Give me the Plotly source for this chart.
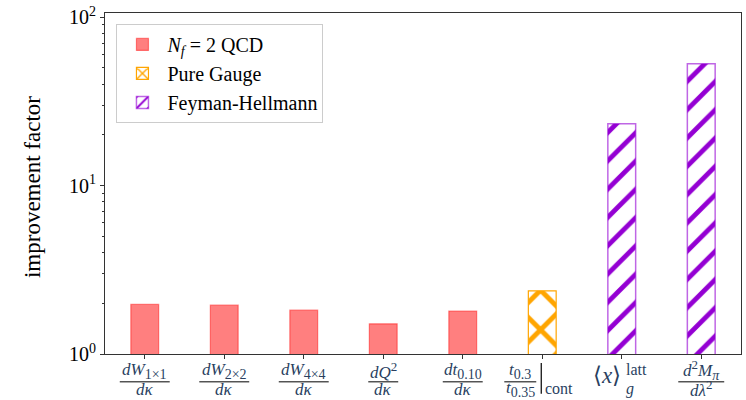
import plotly.graph_objects as go

# ---- data ----
qcd_idx = [0, 1, 2, 3, 4]
qcd_vals = [1.97, 1.95, 1.82, 1.51, 1.80]
gauge_idx = [5]
gauge_vals = [2.37]
fh_idx = [6, 7]
fh_vals = [23.3, 52.8]
series_names = ["<i>N</i><sub><i>f</i></sub> = 2 QCD", "Pure Gauge", "Feyman-Hellmann"]
ytick_vals = [1, 10, 100]
ytick_text = ["10<sup>0</sup>", "10<sup>1</sup>", "10<sup>2</sup>"]
yminor_vals = [2, 3, 4, 5, 6, 7, 8, 9, 20, 30, 40, 50, 60, 70, 80, 90]


def sub(t, size=14):
    return '<sub><span style="font-size:%dpx">%s</span></sub>' % (size, t)


def sup(t, size=13):
    return '<sup><span style="font-size:%dpx">%s</span></sup>' % (size, t)


# tick-label pieces (numerator, denominator) for the fraction labels
frac_num = ["<i>dW</i>" + sub("1×1"), "<i>dW</i>" + sub("2×2"), "<i>dW</i>" + sub("4×4"),
            "<i>dQ</i>" + sup("2"), "<i>dt</i>" + sub("0.10")]
frac_den = ["<i>dκ</i>"] * 5

SERIF = "Liberation Serif"
BAR_W = 0.35

fig = go.Figure()
fig.add_trace(go.Bar(
    x=qcd_idx, y=qcd_vals, width=BAR_W, name=series_names[0],
    marker=dict(color="rgba(255,0,0,0.5)", line=dict(color="rgba(255,0,0,0.45)", width=1.2)),
))
fig.add_trace(go.Bar(
    x=gauge_idx, y=gauge_vals, width=BAR_W, name=series_names[1],
    marker=dict(color="white", line=dict(color="orange", width=1.2),
                pattern=dict(shape="x", fgcolor="orange", bgcolor="white", fgopacity=1,
                             size=28, solidity=0.32)),
))
fig.add_trace(go.Bar(
    x=fh_idx, y=fh_vals, width=BAR_W, name=series_names[2],
    marker=dict(color="white", line=dict(color="rgba(148,0,211,0.6)", width=1.5),
                pattern=dict(shape="/", fgcolor="#9400d3", bgcolor="white", fgopacity=1,
                             size=20, solidity=0.24)),
))

plot_h_px = 343.0
px_per_cat = 79.6


def py(px_below):  # pixels below the x-axis -> paper y
    return -px_below / plot_h_px


def dx(px):
    return px / px_per_cat


annotations = []
shapes = []
fs = 17
NUM_Y, BAR_Y, DEN_Y = 17, 28, 36
frac_halfw = [25, 25, 25, 15, 20]
for i, (n, d, hw) in enumerate(zip(frac_num, frac_den, frac_halfw)):
    annotations.append(dict(x=i, y=py(NUM_Y), xref="x", yref="paper", text=n, showarrow=False,
                            xanchor="center", yanchor="middle", font=dict(size=fs, family=SERIF)))
    annotations.append(dict(x=i, y=py(DEN_Y), xref="x", yref="paper", text=d, showarrow=False,
                            xanchor="center", yanchor="middle", font=dict(size=fs, family=SERIF)))
    shapes.append(dict(type="line", xref="x", yref="paper", x0=i - dx(hw), x1=i + dx(hw),
                       y0=py(BAR_Y), y1=py(BAR_Y), line=dict(color="black", width=1)))

# label 5: t0.3/t0.35 |cont
c5 = gauge_idx[0]
annotations.append(dict(x=c5 - dx(22), y=py(NUM_Y), xref="x", yref="paper", text="<i>t</i>" + sub("0.3"),
                        showarrow=False, xanchor="center", yanchor="middle", font=dict(size=fs, family=SERIF)))
annotations.append(dict(x=c5 - dx(22), y=py(DEN_Y - 1), xref="x", yref="paper", text="<i>t</i>" + sub("0.35"),
                        showarrow=False, xanchor="center", yanchor="middle", font=dict(size=fs, family=SERIF)))
shapes.append(dict(type="line", xref="x", yref="paper", x0=c5 - dx(38), x1=c5 - dx(6),
                   y0=py(BAR_Y), y1=py(BAR_Y), line=dict(color="black", width=1)))
shapes.append(dict(type="line", xref="x", yref="paper", x0=c5 - dx(1), x1=c5 - dx(1),
                   y0=py(9), y1=py(40), line=dict(color="black", width=1.2)))
annotations.append(dict(x=c5 + dx(1), y=py(35), xref="x", yref="paper", text="cont",
                        showarrow=False, xanchor="left", yanchor="middle", font=dict(size=16, family=SERIF)))

# label 6: <x>_g^latt
c6 = fh_idx[0]
annotations.append(dict(x=c6 + dx(1), y=py(22), xref="x", yref="paper", text="⟨<i>x</i>⟩",
                        showarrow=False, xanchor="right", yanchor="middle", font=dict(size=23, family=SERIF)))
annotations.append(dict(x=c6 + dx(2), y=py(16), xref="x", yref="paper", text="latt",
                        showarrow=False, xanchor="left", yanchor="middle", font=dict(size=16, family=SERIF)))
annotations.append(dict(x=c6 + dx(2), y=py(35), xref="x", yref="paper", text="<i>g</i>",
                        showarrow=False, xanchor="left", yanchor="middle", font=dict(size=16, family=SERIF)))

# label 7: d^2 M_pi / d lambda^2
c7 = fh_idx[1]
annotations.append(dict(x=c7, y=py(NUM_Y - 1), xref="x", yref="paper",
                        text="<i>d</i>" + sup("2") + "<i>M</i>" + sub("<i>π</i>"),
                        showarrow=False, xanchor="center", yanchor="middle", font=dict(size=fs, family=SERIF)))
annotations.append(dict(x=c7, y=py(DEN_Y - 1), xref="x", yref="paper", text="<i>dλ</i>" + sup("2"),
                        showarrow=False, xanchor="center", yanchor="middle", font=dict(size=fs, family=SERIF)))
shapes.append(dict(type="line", xref="x", yref="paper", x0=c7 - dx(23), x1=c7 + dx(23),
                   y0=py(BAR_Y), y1=py(BAR_Y), line=dict(color="black", width=1)))

# y-axis title
annotations.append(dict(x=-0.113, y=0.49, xref="paper", yref="paper", text="improvement factor",
                        textangle=-90, showarrow=False, xanchor="center", yanchor="middle",
                        font=dict(size=23, family=SERIF, color="black")))

fig.update_layout(
    width=746, height=400,
    margin=dict(l=105, r=4, t=11, b=46),
    paper_bgcolor="white", plot_bgcolor="white",
    barmode="overlay",
    showlegend=True,
    legend=dict(x=0.018, y=0.968, xanchor="left", yanchor="top",
                bgcolor="white", bordercolor="#cccccc", borderwidth=1,
                font=dict(family=SERIF, size=20, color="black"),
                itemwidth=40, tracegroupgap=0),
    annotations=annotations, shapes=shapes,
    xaxis=dict(range=[-0.5, 7.5], tickmode="array", tickvals=qcd_idx + gauge_idx + fh_idx,
               showticklabels=False, ticks="outside", ticklen=4, tickcolor="#333",
               showline=True, linecolor="#333", linewidth=1, mirror=True, showgrid=False, zeroline=False),
    yaxis=dict(type="log", range=[0, 2.024], tickmode="array", tickvals=ytick_vals, ticktext=ytick_text,
               ticks="outside", ticklen=4, tickcolor="#333",
               tickfont=dict(family=SERIF, size=20, color="black"),
               minor=dict(tickmode="array", tickvals=yminor_vals, ticks="outside", ticklen=2,
                          tickcolor="#333", showgrid=False),
               showline=True, linecolor="#333", linewidth=1, mirror=True, showgrid=False, zeroline=False),
)

fig.write_html("out.html")
